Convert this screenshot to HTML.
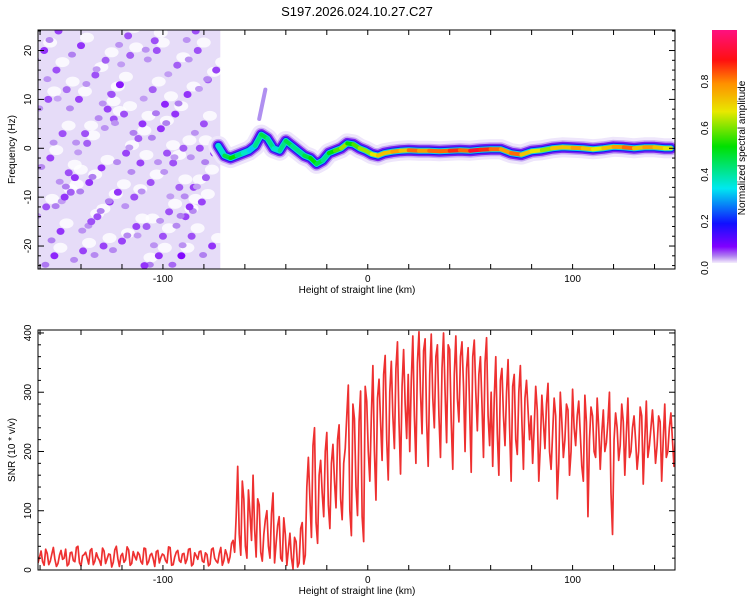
<!DOCTYPE html>
<html><head><meta charset="utf-8"><style>
html,body{margin:0;padding:0;background:#fff;width:750px;height:600px;overflow:hidden}
svg{display:block;font-family:"Liberation Sans",Arial,sans-serif}
</style></head><body>
<svg id="c" width="750" height="600" viewBox="0 0 750 600">
<defs>
<linearGradient id="cb" x1="0" y1="1" x2="0" y2="0">
<stop offset="0" stop-color="#f4eefc"/><stop offset="0.03" stop-color="#b080f0"/>
<stop offset="0.07" stop-color="#8000ff"/><stop offset="0.17" stop-color="#1010ff"/>
<stop offset="0.32" stop-color="#00e8f0"/><stop offset="0.5" stop-color="#00e000"/>
<stop offset="0.65" stop-color="#e8e800"/><stop offset="0.77" stop-color="#ff9000"/>
<stop offset="0.87" stop-color="#ff1010"/><stop offset="1" stop-color="#ff1080"/>
</linearGradient>
<clipPath id="clipTop"><rect x="38" y="30" width="637" height="239"/></clipPath>
<clipPath id="clipBot"><rect x="38" y="330" width="637" height="240"/></clipPath>
</defs>
<text x="357" y="16" font-size="13" text-anchor="middle">S197.2026.024.10.27.C27</text>
<g id="topPanel"></g>
<g id="botPanel"></g>
<g id="cbar">
<rect x="712" y="30" width="25" height="233" fill="url(#cb)"/>
<text transform="translate(745,148) rotate(-90)" font-size="10" text-anchor="middle">Normalized spectral amplitude</text>
</g>
</svg>
<script>
// ---- data ----
const xDomain=[-161,150];
const fDomain=[-24.7,24.2];
const snrDomain=[0,405];
const xTicksMajor=[-100,0,100];
const fTicksMajor=[-20,-10,0,10,20];
const snrTicksMajor=[0,100,200,300,400];
const cbTicks=[0.0,0.2,0.4,0.6,0.8];
// ridge: x (km), center freq (Hz), amplitude
const ridgeX=[-73,-70,-67,-64,-61,-58,-55,-52,-49,-46,-43,-40,-37,-34,-31,-28,-25,-22,-19,-16,-13,-10,-7,-4,-1,2,5,8,12,16,20,25,30,35,40,45,50,55,60,65,70,75,80,85,90,95,100,105,110,115,120,125,130,135,140,145,148];
const ridgeF=[0.5,-1.5,-2,-1.5,-1,-0.5,0.5,2.8,2,0,-0.5,1.5,0.5,-0.5,-1.5,-2,-3.2,-2.5,-1,-0.5,0,1,0.8,0,-0.5,-1.2,-1.5,-1,-0.7,-0.5,-0.4,-0.5,-0.5,-0.6,-0.5,-0.4,-0.5,-0.3,-0.2,-0.2,-1,-1.3,-0.6,-0.4,0,0.2,0.1,0,-0.2,0,0.3,0.2,0,0.2,0.2,0,0];
const ridgeA=[0.35,0.45,0.5,0.4,0.35,0.3,0.4,0.45,0.4,0.35,0.4,0.45,0.4,0.4,0.45,0.5,0.45,0.4,0.5,0.55,0.6,0.5,0.55,0.6,0.6,0.65,0.7,0.7,0.75,0.7,0.8,0.75,0.8,0.8,0.85,0.8,0.9,0.85,0.8,0.75,0.8,0.7,0.65,0.6,0.7,0.7,0.75,0.7,0.65,0.7,0.75,0.8,0.7,0.75,0.7,0.65,0.6];
// noise blobs: x, f, level
const blobX=[-158,-152,-147,-140,-133,-127,-121,-116,-110,-104,-99,-93,-88,-83,-78,-155,-149,-143,-137,-130,-124,-118,-112,-106,-101,-95,-90,-85,-80,-75,-157,-150,-145,-139,-132,-126,-120,-114,-108,-102,-97,-92,-86,-81,-76,-153,-146,-141,-135,-128,-122,-117,-111,-105,-100,-94,-89,-84,-79,-74,-156,-148,-138,-129,-119,-109,-98,-91,-82,-151,-136,-125,-113,-103,-87];
const blobF=[20,16,12,21,15,8,13,19,5,22,9,17,11,20,14,-2,3,-6,1,-4,6,-1,2,-7,4,-3,0,-8,5,-1,-12,-17,-9,-21,-14,-11,-19,-10,-16,-22,-13,-8,-18,-11,-20,-22,-5,10,-15,18,-9,23,-3,12,-18,7,-14,24,-6,16,10,-10,3,-20,7,-24,-1,-22,0,24,-7,11,-16,20,-12];
const blobL=[0.12,0.1,0.08,0.12,0.1,0.11,0.14,0.09,0.12,0.1,0.13,0.09,0.12,0.1,0.09,0.11,0.1,0.12,0.09,0.12,0.1,0.11,0.09,0.1,0.12,0.1,0.09,0.11,0.1,0.12,0.1,0.12,0.09,0.11,0.1,0.12,0.11,0.1,0.09,0.12,0.1,0.09,0.1,0.11,0.12,0.13,0.1,0.11,0.1,0.09,0.12,0.1,0.11,0.09,0.1,0.12,0.11,0.1,0.09,0.11,0.1,0.12,0.1,0.11,0.1,0.12,0.1,0.15,0.1,0.11,0.12,0.1,0.11,0.1,0.12];
// SNR series: samples at snrStart + i*snrStep, and midpoint samples between them
const snrStart=-161, snrStep=1.5;
const snrValues=[
12,32,8,28,15,38,6,25,18,35,10,30,14,40,7,26,20,33,9,29,16,37,11,27,5,34,19,24,13,39,8,31,17,26,10,36,14,28,6,33,21,25,12,38,9,30,16,27,11,35,7,29,18,32,13,26,10,37,15,28,8,34,12,45,
30,175,25,120,20,95,160,22,110,15,85,40,95,12,75,20,88,
8,62,2,48,12,80,25,
190,55,240,45,185,90,232,70,212,105,245,85,205,
312,58,255,92,302,48,285,
150,345,118,322,185,362,152,352,205,385,162,372,222,
200,395,180,402,230,390,175,398,240,380,190,400,215,372,170,395,250,385,200,375,165,388,235,360,190,392,210,
175,360,160,340,210,355,150,330,195,345,170,320,220,
180,310,150,295,205,315,170,290,120,300,190,280,160,305,210,285,175,295,90,275,200,290,170,270,215,300,60,265,185,280,160,290,200,260,170,275,145,285,210,270,180,260,150,280,200,265,175
];
const snrMidValues=[
22,14,35,9,27,18,11,33,20,7,29,16,38,12,24,30,10,36,15,21,8,32,19,26,13,40,6,28,17,34,11,23,30,14,37,9,25,19,31,12,27,16,39,8,22,33,13,28,18,36,10,24,31,15,29,7,35,20,12,38,16,26,22,50,
90,60,150,40,135,50,70,120,30,60,100,20,130,45,90,15,60,
35,20,55,5,70,10,140,
120,210,80,160,130,200,110,180,150,220,120,180,260,
100,280,140,250,90,310,200,
260,200,290,250,330,220,300,260,340,250,310,280,330,
320,260,350,300,370,250,330,290,360,260,340,300,380,250,330,290,360,310,340,270,360,300,330,280,350,260,300,
290,230,320,260,300,240,310,220,300,250,290,270,260,
240,270,210,250,280,200,230,260,180,250,220,270,200,240,260,230,150,250,220,260,190,240,230,200,250,130,220,240,210,250,230,190,240,220,200,260,220,190,240,230,210,250,220,190,240,220,230
];

const NS='http://www.w3.org/2000/svg';
function mk(tag,attrs,parent){const e=document.createElementNS(NS,tag);for(const k in attrs)e.setAttribute(k,attrs[k]);parent.appendChild(e);return e;}
const X0=38,X1=675;
const sx=v=>X0+(v-xDomain[0])/(xDomain[1]-xDomain[0])*(X1-X0);
const T0=30,T1=269;
const sf=v=>T1-(v-fDomain[0])/(fDomain[1]-fDomain[0])*(T1-T0);
const B0=330,B1=570;
const sy=v=>B1-(v-snrDomain[0])/(snrDomain[1]-snrDomain[0])*(B1-B0);
function col(a){const s=[[0,[244,238,252]],[0.03,[176,128,240]],[0.07,[128,0,255]],[0.17,[16,16,255]],[0.32,[0,232,240]],[0.5,[0,224,0]],[0.65,[232,232,0]],[0.77,[255,144,0]],[0.87,[255,16,16]],[1,[255,16,128]]];
for(let i=1;i<s.length;i++)if(a<=s[i][0]){const t=(a-s[i-1][0])/(s[i][0]-s[i-1][0]);const c=s[i-1][1].map((v,j)=>Math.round(v+(s[i][1][j]-v)*t));return'rgb('+c.join(',')+')';}return'rgb(255,16,128)';}

// ---- top panel ----
const topG=document.getElementById('topPanel');
const tg=mk('g',{'clip-path':'url(#clipTop)'},topG);
const bg=mk('rect',{x:sx(-161),y:T0,width:sx(-72)-sx(-161),height:T1-T0,fill:'#e6dcf8'},tg);


for(let i=0;i<blobX.length;i++){
 const h=mk('ellipse',{cx:sx(blobX[i])+6,cy:sf(blobF[i])-8,rx:7,ry:5,fill:'#ffffff',opacity:0.8},tg);
 
 
}
for(let i=0;i<blobX.length;i++){
 const b2=mk('ellipse',{cx:sx(blobX[i])-9,cy:sf(blobF[i])+9,rx:4,ry:3,fill:col(blobL[i]*0.25)},tg);
 
 
 const b=mk('ellipse',{cx:sx(blobX[i]),cy:sf(blobF[i]),rx:4,ry:3.5,fill:col(blobL[i]*0.45)},tg);
 
 
}
const pts=ridgeX.map((x,i)=>sx(x)+','+sf(ridgeF[i])).join(' ');
const layers=[[20,'#eee6fb'],[14,'#c4a8f4'],[11,'#7a20f0'],[8,'#1818f0'],[6,'#10d0e0']];
layers.forEach(([w,c])=>{const p=mk('polyline',{points:pts,fill:'none',stroke:c,'stroke-width':w,'stroke-linejoin':'round','stroke-linecap':'round'},tg);
 
 });
for(let i=0;i<ridgeX.length-1;i++){
 const s=mk('line',{x1:sx(ridgeX[i]),y1:sf(ridgeF[i]),x2:sx(ridgeX[i+1]),y2:sf(ridgeF[i+1]),stroke:col(ridgeA[i]),'stroke-width':4,'stroke-linecap':'round'},tg);
 
 
}
const streak=mk('line',{x1:sx(-53),y1:sf(6),x2:sx(-50),y2:sf(12),stroke:'#b090f0','stroke-width':4,'stroke-linecap':'round'},tg);



function axes(parent,y0,y1,sY,yMajor,yMinorStep,yDom,ytitle,name){
 const fr=mk('rect',{x:X0,y:y0,width:X1-X0,height:y1-y0,fill:'none',stroke:'#000','stroke-width':1},parent);
 
 
 for(let v=-160;v<=150;v+=20){const x=sx(v);mk('line',{x1:x,y1:y1,x2:x,y2:y1-5,stroke:'#000'},parent);mk('line',{x1:x,y1:y0,x2:x,y2:y0+5,stroke:'#000'},parent);}
 xTicksMajor.forEach(v=>{const t=mk('text',{x:sx(v),y:y1+13,'font-size':10,'text-anchor':'middle'},parent);t.textContent=v;
  });
 const xt=mk('text',{x:357,y:y1+24,'font-size':10,'text-anchor':'middle'},parent);xt.textContent='Height of straight line (km)';
 
 for(let v=Math.ceil(yDom[0]/yMinorStep)*yMinorStep;v<=yDom[1];v+=yMinorStep){const y=sY(v);const maj=yMajor.includes(v);const L=maj?6:3;
  mk('line',{x1:X0,y1:y,x2:X0+L,y2:y,stroke:'#000'},parent);mk('line',{x1:X1,y1:y,x2:X1-L,y2:y,stroke:'#000'},parent);}
 yMajor.forEach(v=>{const t=mk('text',{transform:'translate('+(X0-7)+','+sY(v)+') rotate(-90)','font-size':10,'text-anchor':'middle'},parent);t.textContent=v;
  });
 const yt=mk('text',{transform:'translate(15,'+((y0+y1)/2)+') rotate(-90)','font-size':10,'text-anchor':'middle'},parent);yt.textContent=ytitle;
 
}
axes(topG,T0,T1,sf,fTicksMajor,2,fDomain,'Frequency (Hz)','spectrogram');

// ---- bottom panel ----
const botG=document.getElementById('botPanel');
const bgc=mk('g',{'clip-path':'url(#clipBot)'},botG);
const spArr=[];
snrValues.forEach((v,i)=>{
 const x=snrStart+i*snrStep;
 spArr.push(sx(x)+','+sy(v));
 if(i<snrMidValues.length) spArr.push(sx(x+snrStep/2)+','+sy(snrMidValues[i]));
});
const line=mk('polyline',{points:spArr.join(' '),fill:'none',stroke:'#ee3030','stroke-width':1.7,'stroke-linejoin':'round'},bgc);


axes(botG,B0,B1,sy,snrTicksMajor,20,snrDomain,'SNR (10 * v/v)','snr');

// ---- colorbar ticks ----
const cbG=document.getElementById('cbar');
const cy=v=>263-v/1.0*233;
cbTicks.forEach(v=>{const t=mk('text',{transform:'translate(708,'+(cy(v)+5)+') rotate(-90)','font-size':10,'text-anchor':'middle'},cbG);t.textContent=v.toFixed(1);
 });
</script>
</body></html>
